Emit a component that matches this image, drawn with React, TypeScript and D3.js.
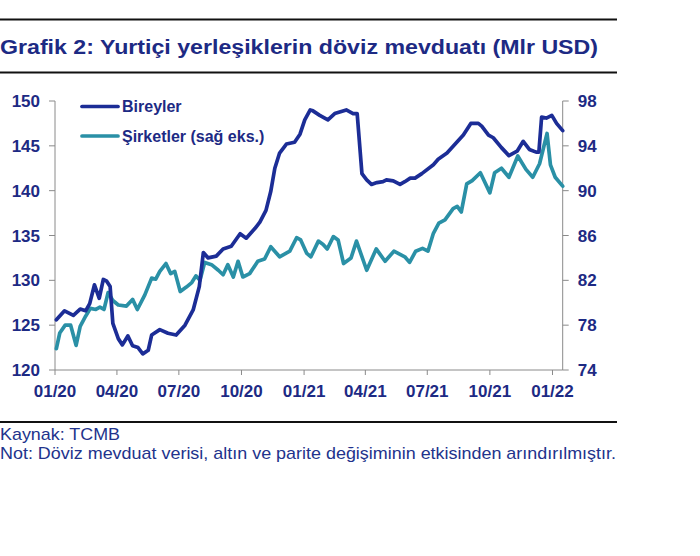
import React from "react";
import * as d3 from "d3";

// ---- Data ----
const bireylerDates = [
  "2020-01-03","2020-01-15","2020-01-28","2020-02-07","2020-02-15","2020-02-21","2020-02-28","2020-03-06","2020-03-12","2020-03-17","2020-03-22","2020-03-26",
  "2020-04-03","2020-04-09","2020-04-17","2020-04-24","2020-05-02","2020-05-09","2020-05-17","2020-05-22","2020-06-03","2020-06-15","2020-06-27",
  "2020-07-10","2020-07-22","2020-07-31","2020-08-06","2020-08-13","2020-08-25","2020-09-04","2020-09-16","2020-09-29",
  "2020-10-08","2020-10-21","2020-10-28","2020-11-06","2020-11-13","2020-11-19","2020-11-26","2020-12-06","2020-12-18","2020-12-26",
  "2021-01-02","2021-01-10","2021-01-14","2021-01-24","2021-02-05","2021-02-15","2021-03-04","2021-03-14","2021-03-20","2021-03-27",
  "2021-04-03","2021-04-10","2021-04-18","2021-04-27","2021-05-02","2021-05-12","2021-05-22","2021-05-29","2021-06-06","2021-06-13","2021-06-23",
  "2021-07-10","2021-07-17","2021-07-30","2021-08-11","2021-08-23","2021-09-03","2021-09-14","2021-09-19","2021-09-29",
  "2021-10-06","2021-10-18","2021-10-29","2021-11-10","2021-11-19","2021-11-28","2021-12-08","2021-12-12","2021-12-16","2021-12-23","2021-12-31",
  "2022-01-07","2022-01-16"
];
const bireylerValues = [
  125.6,126.6,126.1,126.8,126.6,127.4,129.5,128.0,130.1,129.9,129.3,125.2,
  123.5,122.8,123.8,122.7,122.5,121.8,122.2,123.9,124.5,124.1,123.9,
  125.0,126.7,129.3,133.1,132.5,132.7,133.5,133.8,135.2,
  134.7,135.8,136.5,137.8,139.9,142.5,144.2,145.2,145.4,146.3,
  147.9,149.0,148.9,148.4,147.9,148.6,149.0,148.6,148.6,141.9,
  141.2,140.7,140.9,141.0,141.2,141.1,140.7,141.0,141.4,141.4,141.9,
  142.9,143.5,144.2,145.2,146.2,147.5,147.5,147.2,146.2,
  145.9,144.8,143.9,144.4,145.5,144.6,144.3,144.3,148.2,148.1,148.4,
  147.5,146.7
];

const sirketlerDates = [
  "2020-01-03","2020-01-08","2020-01-16","2020-01-24","2020-02-01","2020-02-07","2020-02-15","2020-02-22","2020-03-01","2020-03-07","2020-03-13","2020-03-19","2020-03-26",
  "2020-04-03","2020-04-15","2020-04-24","2020-05-01","2020-05-12","2020-05-22","2020-05-28","2020-06-03","2020-06-12","2020-06-19","2020-06-25",
  "2020-07-03","2020-07-12","2020-07-20","2020-07-26","2020-08-01","2020-08-08","2020-08-18","2020-08-28","2020-09-04","2020-09-11","2020-09-19","2020-09-26",
  "2020-10-03","2020-10-13","2020-10-25","2020-11-04","2020-11-13","2020-11-26","2020-12-11","2020-12-21","2020-12-27",
  "2021-01-05","2021-01-11","2021-01-22","2021-01-29","2021-02-04","2021-02-13","2021-02-20","2021-02-28","2021-03-11","2021-03-19",
  "2021-04-03","2021-04-17","2021-04-30","2021-05-13","2021-05-29","2021-06-05","2021-06-14","2021-06-24",
  "2021-07-02","2021-07-10","2021-07-18","2021-07-27","2021-08-08","2021-08-14","2021-08-20","2021-08-28","2021-09-05","2021-09-17",
  "2021-10-01","2021-10-08","2021-10-18","2021-10-29","2021-11-11","2021-11-23","2021-12-03","2021-12-13","2021-12-24","2021-12-29",
  "2022-01-05","2022-01-16"
];
const sirketlerValues = [
  75.9,77.3,78.0,78.0,76.2,77.9,78.8,79.5,79.4,79.6,79.4,80.9,80.2,
  79.8,79.7,80.3,79.4,80.7,82.2,82.1,82.8,83.5,82.6,82.8,
  81.0,81.4,81.8,82.4,82.0,83.6,83.4,82.9,82.5,83.4,82.3,83.7,
  82.3,82.6,83.7,83.9,85.0,84.1,84.6,85.8,85.6,
  84.4,84.1,85.5,85.2,84.8,85.9,85.6,83.5,84.0,85.5,
  82.9,84.8,83.7,84.6,84.1,83.6,84.6,84.85,
  84.6,86.2,87.1,87.4,88.4,88.6,88.1,90.6,90.9,91.6,
  89.8,91.6,92.0,91.2,93.1,91.9,91.2,92.4,95.1,92.3,
  91.2,90.4
];

const xTickDates = ["2020-01-01","2020-04-01","2020-07-01","2020-10-01","2021-01-01","2021-04-01","2021-07-01","2021-10-01","2022-01-01"];
const xTickLabels = ["01/20","04/20","07/20","10/20","01/21","04/21","07/21","10/21","01/22"];
const leftTicks = [120, 125, 130, 135, 140, 145, 150];
const rightTicks = [74, 78, 82, 86, 90, 94, 98];
const seriesNames = ["Bireyler", "Şirketler (sağ eks.)"];

const titleText = "Grafik 2: Yurtiçi yerleşiklerin döviz mevduatı (Mlr USD)";
const sourceText = "Kaynak: TCMB";
const noteText = "Not: Döviz mevduat verisi, altın ve parite değişiminin etkisinden arındırılmıştır.";

const NAVY = "#1d2a84";
const BLUE = "#1c2d96";
const TEAL = "#2a90a6";
const AXIS = "#8a8a8a";
const FONT = "'Liberation Sans', Arial, sans-serif";

export default function App() {
  const parse = d3.timeParse("%Y-%m-%d");
  const x = d3
    .scaleTime()
    .domain([parse("2020-01-01") as Date, parse("2022-01-16") as Date])
    .range([55, 562.7]);
  const yL = d3.scaleLinear().domain([120, 150]).range([370, 101]);
  const yR = d3.scaleLinear().domain([74, 98]).range([370, 101]);

  const bData = bireylerDates.map((d, i) => ({ d: parse(d) as Date, v: bireylerValues[i] }));
  const sData = sirketlerDates.map((d, i) => ({ d: parse(d) as Date, v: sirketlerValues[i] }));

  const bLine = d3
    .line<{ d: Date; v: number }>()
    .x((p) => x(p.d))
    .y((p) => yL(p.v));
  const sLine = d3
    .line<{ d: Date; v: number }>()
    .x((p) => x(p.d))
    .y((p) => yR(p.v));

  const [x0, x1] = x.range();
  const yBottom = yL.range()[0];
  const yTop = yL.range()[1];

  return (
    <svg
      width={700}
      height={556}
      style={{ position: "absolute", left: 0, top: 0, background: "#fff" }}
      fontFamily={FONT}
    >
      {/* header rules and title */}
      <line x1={0} x2={617} y1={19.5} y2={19.5} stroke="#111" strokeWidth={2} />
      <text
        x={0}
        y={54}
        fontSize={20}
        fontWeight="bold"
        fill={NAVY}
        textLength={598}
        lengthAdjust="spacingAndGlyphs"
      >
        {titleText}
      </text>
      <line x1={0} x2={617} y1={72.5} y2={72.5} stroke="#111" strokeWidth={2} />

      {/* axes */}
      <line x1={x0} x2={x0} y1={yTop} y2={yBottom} stroke={AXIS} strokeWidth={1} />
      <line x1={x1} x2={x1} y1={yTop} y2={yBottom} stroke={AXIS} strokeWidth={1} />
      <line x1={x0} x2={x1} y1={yBottom} y2={yBottom} stroke={AXIS} strokeWidth={1} />

      {leftTicks.map((t) => (
        <g key={"l" + t}>
          <line x1={x0 - 6} x2={x0} y1={yL(t)} y2={yL(t)} stroke={AXIS} strokeWidth={1} />
          <text
            x={x0 - 15}
            y={yL(t)}
            dy="0.36em"
            textAnchor="end"
            fontSize={17}
            fontWeight="bold"
            fill={NAVY}
          >
            {t}
          </text>
        </g>
      ))}
      {rightTicks.map((t) => (
        <g key={"r" + t}>
          <line x1={x1} x2={x1 + 6} y1={yR(t)} y2={yR(t)} stroke={AXIS} strokeWidth={1} />
          <text
            x={x1 + 15}
            y={yR(t)}
            dy="0.36em"
            textAnchor="start"
            fontSize={17}
            fontWeight="bold"
            fill={NAVY}
          >
            {t}
          </text>
        </g>
      ))}
      {xTickDates.map((d, i) => {
        const xx = x(parse(d) as Date);
        return (
          <g key={"x" + d}>
            <line x1={xx} x2={xx} y1={yBottom} y2={yBottom + 5} stroke={AXIS} strokeWidth={1} />
            <text x={xx} y={yBottom + 27} textAnchor="middle" fontSize={17} fontWeight="bold" fill={NAVY}>
              {xTickLabels[i]}
            </text>
          </g>
        );
      })}

      {/* series */}
      <path d={sLine(sData) || ""} fill="none" stroke={TEAL} strokeWidth={3.7} strokeLinejoin="round" strokeLinecap="round" />
      <path d={bLine(bData) || ""} fill="none" stroke={BLUE} strokeWidth={3.7} strokeLinejoin="round" strokeLinecap="round" />

      {/* legend */}
      <line x1={82} x2={118} y1={106.5} y2={106.5} stroke={BLUE} strokeWidth={3.7} strokeLinecap="round" />
      <text x={122} y={112} fontSize={16} fontWeight="bold" fill={NAVY}>
        {seriesNames[0]}
      </text>
      <line x1={82} x2={118} y1={136} y2={136} stroke={TEAL} strokeWidth={3.7} strokeLinecap="round" />
      <text x={122} y={141.5} fontSize={16} fontWeight="bold" fill={NAVY}>
        {seriesNames[1]}
      </text>

      {/* footer */}
      <line x1={0} x2={617} y1={422} y2={422} stroke="#111" strokeWidth={2} />
      <text x={0} y={440} fontSize={17} fill="#22338c" textLength={120} lengthAdjust="spacingAndGlyphs">
        {sourceText}
      </text>
      <text x={0} y={459} fontSize={17} fill="#22338c" textLength={616} lengthAdjust="spacingAndGlyphs">
        {noteText}
      </text>
    </svg>
  );
}
